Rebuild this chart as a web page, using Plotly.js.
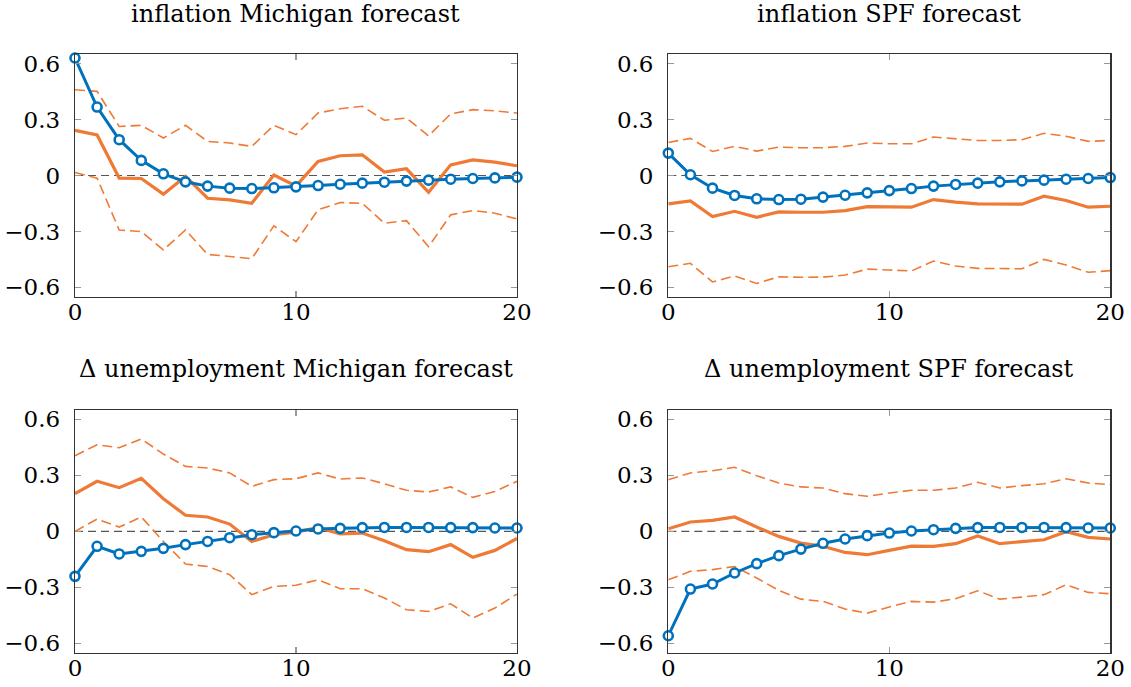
<!DOCTYPE html>
<html><head><meta charset="utf-8">
<script src="https://cdn.plot.ly/plotly-3.0.1.min.js"></script>
<style>html,body{margin:0;padding:0;background:#fff}#chart{width:1131px;height:687px}</style>
</head><body><div id="chart"></div>
<script>
const horizon = [0,1,2,3,4,5,6,7,8,9,10,11,12,13,14,15,16,17,18,19,20];

const titles = ["inflation Michigan forecast","inflation SPF forecast","Δ unemployment Michigan forecast","Δ unemployment SPF forecast"];

// Panel 1: inflation Michigan
const p1Blue  = [0.630,0.367,0.192,0.081,0.009,-0.034,-0.057,-0.068,-0.070,-0.066,-0.061,-0.054,-0.047,-0.041,-0.036,-0.030,-0.025,-0.020,-0.016,-0.013,-0.009];
const p1Mid   = [0.242,0.217,-0.014,-0.016,-0.100,-0.005,-0.122,-0.131,-0.149,0.002,-0.056,0.075,0.106,0.111,0.018,0.036,-0.090,0.057,0.084,0.072,0.052];
const p1Up    = [0.460,0.451,0.263,0.269,0.201,0.269,0.183,0.174,0.156,0.269,0.219,0.335,0.358,0.371,0.296,0.308,0.213,0.330,0.353,0.347,0.335];
const p1Lo    = [0.016,-0.014,-0.292,-0.301,-0.399,-0.292,-0.423,-0.435,-0.446,-0.270,-0.355,-0.184,-0.145,-0.149,-0.256,-0.242,-0.382,-0.211,-0.188,-0.202,-0.233];

// Panel 2: inflation SPF
const p2Blue  = [0.120,0.004,-0.068,-0.107,-0.125,-0.129,-0.127,-0.116,-0.106,-0.093,-0.081,-0.070,-0.057,-0.048,-0.041,-0.034,-0.029,-0.025,-0.020,-0.016,-0.011];
const p2Mid   = [-0.152,-0.136,-0.220,-0.192,-0.224,-0.195,-0.197,-0.197,-0.188,-0.167,-0.168,-0.170,-0.129,-0.143,-0.152,-0.154,-0.154,-0.111,-0.134,-0.170,-0.165];
const p2Up    = [0.177,0.199,0.129,0.156,0.131,0.152,0.149,0.149,0.156,0.174,0.170,0.170,0.206,0.197,0.188,0.188,0.192,0.226,0.210,0.183,0.188];
const p2Lo    = [-0.489,-0.471,-0.571,-0.539,-0.579,-0.543,-0.546,-0.545,-0.534,-0.502,-0.507,-0.512,-0.459,-0.485,-0.498,-0.500,-0.500,-0.450,-0.480,-0.519,-0.510];

// Panel 3: Δ unemployment Michigan
const p3Blue  = [-0.241,-0.080,-0.121,-0.107,-0.091,-0.071,-0.054,-0.034,-0.018,-0.007,0.002,0.013,0.016,0.020,0.021,0.021,0.021,0.020,0.020,0.018,0.018];
const p3Mid   = [0.202,0.268,0.234,0.284,0.175,0.086,0.077,0.039,-0.054,-0.018,-0.005,0.021,-0.013,-0.009,-0.050,-0.098,-0.109,-0.071,-0.139,-0.102,-0.038];
const p3Up    = [0.405,0.464,0.448,0.495,0.414,0.348,0.339,0.313,0.241,0.277,0.282,0.313,0.280,0.286,0.255,0.220,0.211,0.238,0.182,0.214,0.268];
const p3Lo    = [0.000,0.066,0.023,0.077,-0.054,-0.175,-0.188,-0.232,-0.339,-0.295,-0.289,-0.259,-0.307,-0.307,-0.357,-0.420,-0.429,-0.388,-0.464,-0.411,-0.336];

// Panel 4: Δ unemployment SPF
const p4Blue  = [-0.559,-0.309,-0.282,-0.223,-0.173,-0.130,-0.095,-0.064,-0.041,-0.023,-0.009,0.002,0.009,0.016,0.020,0.021,0.021,0.021,0.020,0.018,0.018];
const p4Mid   = [0.014,0.050,0.059,0.077,0.023,-0.027,-0.063,-0.080,-0.113,-0.125,-0.102,-0.079,-0.080,-0.066,-0.025,-0.066,-0.055,-0.045,-0.002,-0.032,-0.041];
const p4Up    = [0.277,0.313,0.325,0.343,0.298,0.259,0.238,0.232,0.202,0.188,0.205,0.220,0.220,0.232,0.263,0.232,0.245,0.255,0.282,0.259,0.250];
const p4Lo    = [-0.259,-0.214,-0.205,-0.188,-0.250,-0.316,-0.363,-0.375,-0.416,-0.438,-0.405,-0.375,-0.379,-0.361,-0.318,-0.363,-0.352,-0.339,-0.286,-0.327,-0.334];

const yTickVals = [0.6,0.3,0,-0.3,-0.6];
const yTickText = ["0.6","0.3","0","\u22120.3","\u22120.6"];
const xTickVals = [0,10,20];
const xTickText = ["0","10","20"];

const panels = [
  {blue:p1Blue, mid:p1Mid, up:p1Up, lo:p1Lo},
  {blue:p2Blue, mid:p2Mid, up:p2Up, lo:p2Lo},
  {blue:p3Blue, mid:p3Mid, up:p3Up, lo:p3Lo},
  {blue:p4Blue, mid:p4Mid, up:p4Up, lo:p4Lo}
];

const BLUE = '#0072BD', ORANGE = '#EE7A35';
const FONT = '"DejaVu Serif", "Liberation Serif", serif';

const xDomains = [[0.0663,0.4571],[0.5909,0.9817],[0.0663,0.4571],[0.5909,0.9817]];
const yDomains = [[0.5681,0.9210],[0.5681,0.9210],[0.0499,0.4032],[0.0499,0.4032]];
const titleY = [0.979,0.979,0.463,0.463];

const traces = [];
const layout = {
  width:1131, height:687,
  margin:{l:0,r:0,t:0,b:0},
  paper_bgcolor:'#fff', plot_bgcolor:'#fff',
  showlegend:false,
  font:{family:FONT, size:22, color:'#000'},
  shapes:[], annotations:[]
};

panels.forEach((p,i)=>{
  const n = i===0 ? '' : String(i+1);
  const xa = 'x'+n, ya = 'y'+n;
  const common = {x:horizon, xaxis:xa, yaxis:ya, mode:'lines', hoverinfo:'skip', cliponaxis:false};
  traces.push(Object.assign({}, common, {y:p.up, line:{color:ORANGE, width:1.6, dash:'10px,5px'}}));
  traces.push(Object.assign({}, common, {y:p.lo, line:{color:ORANGE, width:1.6, dash:'10px,5px'}}));
  traces.push(Object.assign({}, common, {y:p.mid, line:{color:ORANGE, width:3.2}}));
  traces.push(Object.assign({}, common, {y:p.blue, mode:'lines+markers',
    line:{color:BLUE, width:3},
    marker:{symbol:'circle', size:9, color:'#fff', line:{color:BLUE, width:2.6}}}));

  const axBase = {showgrid:false, zeroline:false, showline:true, linecolor:'#333', linewidth:1.2,
    mirror:'ticks', ticks:'inside', ticklen:6, tickcolor:'#999', tickwidth:1.2,
    tickfont:{family:FONT, size:23, color:'#000'}};
  layout['xaxis'+n] = Object.assign({}, axBase, {domain:xDomains[i], range:[0,20], anchor:ya,
    tickmode:'array', tickvals:xTickVals, ticktext:xTickText, ticklabelstandoff:-6});
  layout['yaxis'+n] = Object.assign({}, axBase, {domain:yDomains[i], range:[-0.65,0.65], anchor:xa,
    tickmode:'array', tickvals:yTickVals, ticktext:yTickText, ticklabelstandoff:9});

  layout.shapes.push({type:'line', xref:xa+' domain', yref:ya, x0:0, x1:1, y0:0, y1:0,
    line:{color:'#555', width:1.2, dash:'8px,5px'}, layer:'below'});

  layout.annotations.push({text:titles[i], xref:'paper', yref:'paper',
    x:(xDomains[i][0]+xDomains[i][1])/2, y:titleY[i], xanchor:'center', yanchor:'middle',
    showarrow:false, font:{family:FONT, size:24, color:'#000'}});
});

Plotly.newPlot('chart', traces, layout, {staticPlot:true, displayModeBar:false});
</script>
</body></html>
